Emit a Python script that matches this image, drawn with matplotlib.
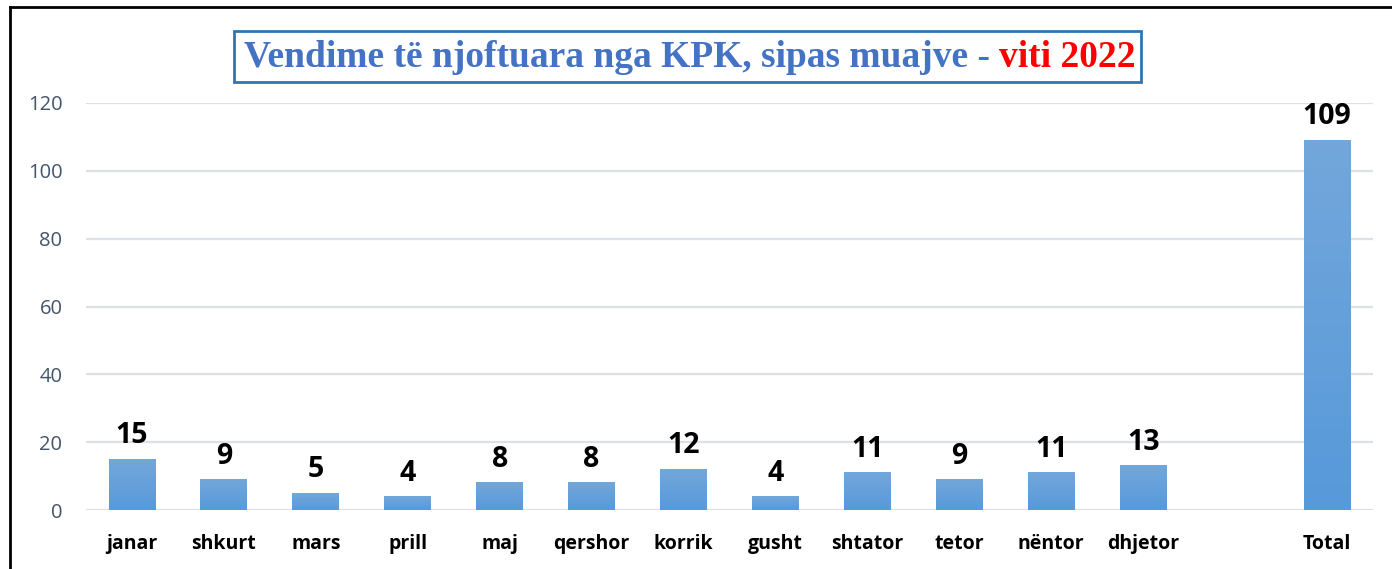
import matplotlib
matplotlib.use("Agg")
import matplotlib.pyplot as plt
import numpy as np
from matplotlib.colors import LinearSegmentedColormap
from matplotlib.lines import Line2D
from matplotlib.patches import Rectangle

categories = ["janar", "shkurt", "mars", "prill", "maj", "qershor", "korrik",
              "gusht", "shtator", "tetor", "nëntor", "dhjetor", "", "Total"]
values = [15, 9, 5, 4, 8, 8, 12, 4, 11, 9, 11, 13, None, 109]
yticks = [0, 20, 40, 60, 80, 100, 120]
title_blue = "Vendime të njoftuara nga KPK, sipas muajve - "
title_red = "viti 2022"

W, H = 1392, 569
fig = plt.figure(figsize=(W / 100, H / 100), dpi=100)
ax = fig.add_axes([86 / W, 1 - 510 / H, (1373 - 86) / W, (510 - 103) / H])

x = np.arange(len(categories))
vals = [v if v is not None else 0 for v in values]
bars = ax.bar(x, vals, width=0.51, color="none", edgecolor="none", zorder=3)

cmap = LinearSegmentedColormap.from_list("g", ["#5799DB", "#73A7DA"])
grad = np.linspace(0, 1, 256).reshape(-1, 1)
for b, v in zip(bars, values):
    if v is None:
        continue
    x0, y0 = b.get_x(), b.get_y()
    w, h = b.get_width(), b.get_height()
    ax.imshow(grad, cmap=cmap, origin="lower", aspect="auto",
              extent=(x0, x0 + w, y0, y0 + h), zorder=3, interpolation="bilinear")
    ax.text(x0 + w / 2, y0 + h + 2.6, str(v), ha="center", va="bottom",
            fontsize=20.5, fontweight="bold", family="Open Sans", color="black", zorder=4)

ax.set_xlim(-0.5, len(categories) - 0.5)
ax.set_ylim(0, 120)
ax.set_yticks(yticks)
ax.set_yticklabels([str(t) for t in yticks], fontsize=14.5, color="#44546A", family="Open Sans")
ax.set_xticks(x)
ax.set_xticklabels(categories, fontsize=14, fontweight="bold", family="Open Sans", color="black")
ax.tick_params(axis="both", length=0)
ax.tick_params(axis="x", pad=17)
ax.tick_params(axis="y", pad=17)
for s in ax.spines.values():
    s.set_visible(False)
ax.grid(axis="y", color="#DCE0E8", linewidth=1.6, zorder=0)
ax.set_axisbelow(True)

# figure border (top and left)
fig.add_artist(Line2D([9.5 / W, 9.5 / W], [0, 1 - 7 / H], transform=fig.transFigure,
                      color="black", linewidth=2))
fig.add_artist(Line2D([9.5 / W, 1], [1 - 7 / H, 1 - 7 / H], transform=fig.transFigure,
                      color="black", linewidth=2))

# title box
fig.add_artist(Rectangle((234 / W, 1 - 82 / H), (1141 - 234) / W, (82 - 31) / H,
                         transform=fig.transFigure, facecolor="white",
                         edgecolor="#2E75B6", linewidth=2, zorder=5))
t1 = fig.text(244 / W, 1 - 57 / H, title_blue, ha="left", va="center",
              fontsize=27, fontweight="bold", family="Liberation Serif",
              color="#4472C4", zorder=6)
fig.canvas.draw()
bb = t1.get_window_extent(renderer=fig.canvas.get_renderer())
fig.text(bb.x1 / W, 1 - 57 / H, title_red, ha="left", va="center",
         fontsize=27, fontweight="bold", family="Liberation Serif",
         color="#FF0000", zorder=6)

fig.savefig("out.png", dpi=100, facecolor="white")
